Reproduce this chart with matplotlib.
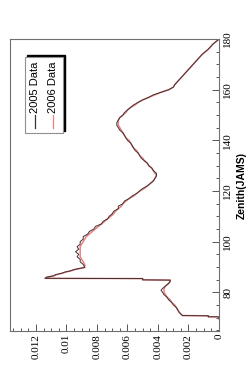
import matplotlib
matplotlib.use('Agg')
import matplotlib.pyplot as plt
from matplotlib.patches import Rectangle
from matplotlib.ticker import MultipleLocator, FuncFormatter

# zenith angle (JAMS) and the two data series
zenith = [69.5, 70.3, 70.3, 70.7, 70.8, 72, 73, 74, 75, 76, 77, 78, 79, 80, 80.8,
          81.5, 82.5, 83.5, 84.3, 84.8, 84.9, 85.4, 85.5, 86.0, 86.5, 87, 87.5, 88,
          88.5, 89, 89.8, 91, 92, 93, 94, 95, 96, 97, 98, 99, 100, 101, 102, 103,
          104, 105, 106, 107, 108, 109, 110, 111, 112, 113, 114, 115, 116, 117, 118,
          119, 120, 121, 122, 123, 124, 125, 126, 127, 128, 129, 130, 131, 132, 133,
          134, 135, 136, 137, 138, 139, 140, 141, 142, 143, 144, 145, 146, 147, 148,
          149, 150, 151, 152, 153, 154, 155, 156, 157, 158, 159, 160, 161, 162, 164,
          166, 168, 170, 172, 174, 176, 178, 180]

data_2005 = [0.0, 0.0, 0.0007, 0.0007, 0.0024, 0.0026, 0.0027, 0.0028, 0.0030, 0.0031,
             0.0033, 0.0034, 0.0036, 0.0037, 0.0038, 0.0037, 0.0035, 0.0033, 0.0032,
             0.0032, 0.0050, 0.0050, 0.0114, 0.0113, 0.0108, 0.0107, 0.0103, 0.0101,
             0.0097, 0.0095, 0.0088, 0.0089, 0.0091, 0.0091, 0.0093, 0.0092, 0.0094,
             0.0092, 0.0093, 0.0091, 0.0091, 0.0089, 0.0089, 0.0086, 0.0085, 0.0082,
             0.0081, 0.0077, 0.0076, 0.0073, 0.0072, 0.0070, 0.0069, 0.0066, 0.0066,
             0.0063, 0.0062, 0.0059, 0.0057, 0.0054, 0.0052, 0.0050, 0.0047, 0.0045,
             0.0043, 0.0042, 0.0041, 0.0041, 0.0043, 0.0044, 0.0046, 0.0047, 0.0049,
             0.0051, 0.0052, 0.0053, 0.0055, 0.0056, 0.0057, 0.0058, 0.0060, 0.0061,
             0.0062, 0.0063, 0.0065, 0.0066, 0.0067, 0.0067, 0.0066, 0.0065, 0.0063,
             0.0062, 0.0060, 0.0058, 0.0056, 0.0053, 0.0050, 0.0046, 0.0043, 0.0038,
             0.0033, 0.0030, 0.0029, 0.0026, 0.0023, 0.0020, 0.0017, 0.0014, 0.0011,
             0.0007, 0.0004, 0.0]

data_2006 = [0.0, 0.0, 0.0007, 0.0007, 0.0024, 0.0026, 0.0027, 0.0028, 0.0029, 0.0031,
             0.0032, 0.0034, 0.0035, 0.0036, 0.0036, 0.0036, 0.0035, 0.0033, 0.0032,
             0.0032, 0.0050, 0.0050, 0.0114, 0.0112, 0.0109, 0.0106, 0.0103, 0.0100,
             0.0097, 0.0094, 0.0088, 0.0088, 0.0089, 0.0090, 0.0091, 0.0091, 0.0091,
             0.0091, 0.0091, 0.0090, 0.0089, 0.0088, 0.0087, 0.0085, 0.0083, 0.0081,
             0.0079, 0.0077, 0.0075, 0.0073, 0.0071, 0.0069, 0.0068, 0.0066, 0.0064,
             0.0063, 0.0061, 0.0059, 0.0056, 0.0054, 0.0052, 0.0049, 0.0047, 0.0045,
             0.0043, 0.0042, 0.0041, 0.0042, 0.0043, 0.0044, 0.0046, 0.0047, 0.0049,
             0.0050, 0.0052, 0.0053, 0.0054, 0.0056, 0.0057, 0.0058, 0.0059, 0.0061,
             0.0062, 0.0063, 0.0064, 0.0065, 0.0066, 0.0066, 0.0066, 0.0065, 0.0063,
             0.0061, 0.0060, 0.0058, 0.0055, 0.0053, 0.0050, 0.0046, 0.0042, 0.0038,
             0.0033, 0.0030, 0.0029, 0.0026, 0.0023, 0.0020, 0.0017, 0.0014, 0.0011,
             0.0007, 0.0004, 0.0]

labels = ['2005 Data', '2006 Data']
colors = ['#3c3232', '#ee8080']

fig = plt.figure(figsize=(2.5, 3.69), dpi=100)
ax = fig.add_axes([0.04, 0.103, 0.836, 0.791])

# chart is drawn turned on its side: value runs right-to-left, zenith bottom-to-top
ax.plot(data_2006, zenith, color=colors[1], lw=1.1)
ax.plot(data_2005, zenith, color=colors[0], lw=0.7)

ax.set_xlim(0.0137, 0)
ax.set_ylim(64.7, 180)

ax.xaxis.set_major_locator(MultipleLocator(0.002))
ax.xaxis.set_minor_locator(MultipleLocator(0.0005))
ax.xaxis.set_major_formatter(FuncFormatter(lambda v, p: '{:g}'.format(round(v, 6))))
ax.yaxis.set_major_locator(MultipleLocator(20))
ax.yaxis.set_minor_locator(MultipleLocator(5))
ax.yaxis.tick_right()
ax.yaxis.set_label_position('right')

for s in ax.spines.values():
    s.set_color('#707070')
    s.set_linewidth(0.8)

ax.tick_params(which='both', direction='in', color='#555555', width=0.7)
ax.tick_params(which='major', length=5)
ax.tick_params(which='minor', length=2.5)
ax.tick_params(axis='x', labelrotation=90, labelsize=8, pad=2)
ax.tick_params(axis='y', labelrotation=90, labelsize=8, pad=3)
for t in ax.get_xticklabels() + ax.get_yticklabels():
    t.set_fontfamily('Liberation Serif')
for t in ax.get_yticklabels():
    t.set_va('center')

ax.set_ylabel('Zenith(JAMS)', rotation=90, fontsize=7.5, fontweight='bold',
              family='Liberation Sans', labelpad=3)

# legend box, drawn by hand so its text can be turned with the chart
x0, y0, w, h = 0.072, 0.678, 0.182, 0.26
ax.add_patch(Rectangle((x0 + 0.01, y0 + 0.007), w, h, transform=ax.transAxes,
                       facecolor='black', edgecolor='black', zorder=5))
ax.add_patch(Rectangle((x0, y0), w, h, transform=ax.transAxes,
                       facecolor='white', edgecolor='#909090', lw=0.8, zorder=6))
for i, (lab, c) in enumerate(zip(labels, colors)):
    xc = 0.12 + i * 0.088
    ax.plot([xc, xc], [0.695, 0.74], color=c, lw=0.9, transform=ax.transAxes,
            zorder=7, clip_on=False)
    ax.text(xc, 0.747, lab, rotation=90, ha='center', va='bottom', fontsize=8,
            family='Liberation Sans', transform=ax.transAxes, zorder=7)

fig.savefig('out.png', dpi=100)
